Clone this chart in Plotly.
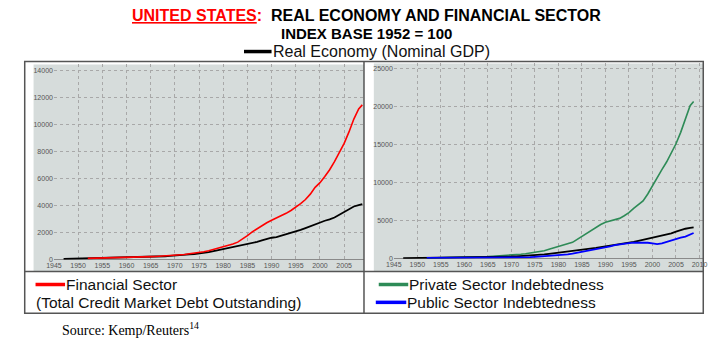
import plotly.graph_objects as go

W, H = 723, 345

# ---------------- data (index, 1952 = 100) ----------------
gdp_years = list(range(1947, 2009)) + [2008.75]
gdp_index = [68, 75, 74, 82, 95, 100, 106, 107, 116, 123, 129, 131, 142, 148, 153, 165,
             174, 187, 203, 222, 235, 257, 278, 292, 317, 349, 388, 421, 459, 510, 567,
             641, 716, 778, 874, 911, 990, 1100, 1182, 1248, 1323, 1427, 1537, 1625, 1678,
             1777, 1869, 1986, 2082, 2200, 2337, 2470, 2624, 2793, 2883, 2980, 3122, 3328,
             3552, 3764, 3938, 4040, 4110]

debt_years = list(range(1952, 2009)) + [2008.75]
financial_index = [100, 106, 112, 121, 128, 134, 142, 153, 160, 170, 182, 196, 211, 226, 241,
                   258, 280, 301, 320, 352, 392, 436, 478, 525, 590, 670, 765, 860, 950, 1050,
                   1160, 1300, 1510, 1780, 2060, 2300, 2520, 2730, 2920, 3080, 3240, 3430, 3640,
                   3880, 4150, 4450, 4850, 5350, 5700, 6150, 6650, 7250, 7900, 8600, 9450,
                   10400, 11150, 11450]
private_index = [100, 108, 116, 130, 140, 150, 160, 175, 190, 210, 230, 260, 280, 300, 330,
                 360, 390, 430, 470, 520, 580, 660, 750, 850, 950, 1050, 1250, 1420, 1600,
                 1780, 1950, 2150, 2550, 2950, 3400, 3800, 4150, 4500, 4800, 4950, 5100, 5300,
                 5650, 6050, 6600, 7100, 7600, 8500, 9600, 10700, 11700, 12700, 13800, 15100,
                 16600, 18400, 20100, 20650]
public_index = [100, 102, 104, 104, 103, 104, 108, 112, 112, 116, 121, 124, 128, 131, 135,
                143, 150, 150, 160, 175, 190, 198, 210, 250, 290, 320, 350, 380, 430, 480,
                560, 660, 770, 900, 1030, 1130, 1230, 1330, 1460, 1620, 1780, 1900, 1990,
                2060, 2120, 2140, 2130, 2100, 2020, 1920, 2020, 2220, 2420, 2600, 2760, 2900,
                3150, 3380]

x_ticks = [1945, 1950, 1955, 1960, 1965, 1970, 1975, 1980, 1985, 1990, 1995, 2000, 2005, 2010]
left_y_ticks = [0, 2000, 4000, 6000, 8000, 10000, 12000, 14000]
right_y_ticks = [0, 5000, 10000, 15000, 20000, 25000]

RED, GREEN, BLUE, BLACK = "#ff0000", "#2e8b57", "#0000ff", "#000000"
GRAY_BG = "#d6dcdb"


def px(x):
    return x / W


def py(y):
    return 1 - y / H


fig = go.Figure()
fig.add_trace(go.Scatter(x=gdp_years, y=gdp_index, mode="lines",
                         line=dict(color=BLACK, width=1.8), xaxis="x", yaxis="y"))
fig.add_trace(go.Scatter(x=debt_years, y=financial_index, mode="lines",
                         line=dict(color=RED, width=1.6), xaxis="x", yaxis="y"))
fig.add_trace(go.Scatter(x=debt_years, y=private_index, mode="lines",
                         line=dict(color=GREEN, width=1.6), xaxis="x2", yaxis="y2"))
fig.add_trace(go.Scatter(x=gdp_years, y=gdp_index, mode="lines",
                         line=dict(color=BLACK, width=1.8), xaxis="x2", yaxis="y2"))
fig.add_trace(go.Scatter(x=debt_years, y=public_index, mode="lines",
                         line=dict(color=BLUE, width=1.8), xaxis="x2", yaxis="y2"))

tickfont = dict(family="Arial, Liberation Sans, sans-serif", size=7, color="#555555")
axis_common = dict(showgrid=True, gridcolor="#a8a8a8", griddash="dot", gridwidth=1,
                   tickfont=tickfont, ticks="", showline=False, fixedrange=True,
                   tickformat="d")

fig.update_layout(
    width=W, height=H, margin=dict(l=0, r=0, t=0, b=0),
    paper_bgcolor="white", plot_bgcolor="rgba(0,0,0,0)", showlegend=False,
    xaxis=dict(domain=[px(46.7), px(362)], range=[1945, 2009.1], tickvals=x_ticks,
               zeroline=False, anchor="y", **axis_common),
    yaxis=dict(domain=[py(262), py(65)], range=[0, 14440], tickvals=left_y_ticks,
               zeroline=True, zerolinecolor="#8a8a8a", zerolinewidth=1, anchor="x",
               **axis_common),
    xaxis2=dict(domain=[px(392.3), px(707)], range=[1945, 2010.8], tickvals=x_ticks,
                zeroline=False, anchor="y2", **axis_common),
    yaxis2=dict(domain=[py(261), py(64)], range=[0, 25650], tickvals=right_y_ticks,
                zeroline=True, zerolinecolor="#8a8a8a", zerolinewidth=1, anchor="x2",
                **axis_common),
)

shapes = []
# gray panels
shapes.append(dict(type="rect", xref="paper", yref="paper", x0=px(26), x1=px(362),
                   y0=py(274), y1=py(65), fillcolor=GRAY_BG, line=dict(width=0), layer="below"))
shapes.append(dict(type="rect", xref="paper", yref="paper", x0=px(372), x1=px(707),
                   y0=py(274), y1=py(64), fillcolor=GRAY_BG, line=dict(width=0), layer="below"))
# frame
BORDER = dict(color="#555555", width=1.5)
shapes.append(dict(type="rect", xref="paper", yref="paper", x0=px(17), x1=px(707),
                   y0=py(316), y1=py(62), line=BORDER, layer="above"))
shapes.append(dict(type="line", xref="paper", yref="paper", x0=px(362), x1=px(362),
                   y0=py(316), y1=py(62), line=BORDER, layer="above"))
shapes.append(dict(type="line", xref="paper", yref="paper", x0=px(17), x1=px(707),
                   y0=py(274), y1=py(274), line=BORDER, layer="above"))


# legend samples
def leg_line(x0, x1, y, color):
    return dict(type="line", xref="paper", yref="paper", x0=px(x0), x1=px(x1),
                y0=py(y), y1=py(y), line=dict(color=color, width=3.5))


shapes.append(leg_line(240, 268, 52, BLACK))
shapes.append(leg_line(28, 58, 287, RED))
shapes.append(leg_line(377, 407, 287, GREEN))
shapes.append(leg_line(374, 405, 305, BLUE))
fig.update_layout(shapes=shapes)

SANS = "Arial, Liberation Sans, sans-serif"
ann = []
ann.append(dict(x=px(365), y=py(16), xref="paper", yref="paper", showarrow=False,
                xanchor="center", yanchor="middle",
                text="<span style='color:#ff0000'><u>UNITED STATES</u>:</span>  REAL ECONOMY AND FINANCIAL SECTOR",
                font=dict(family=SANS, size=16, color="black", weight="bold")))
ann.append(dict(x=px(365), y=py(34), xref="paper", yref="paper", showarrow=False,
                xanchor="center", yanchor="middle", text="INDEX BASE 1952 = 100",
                font=dict(family=SANS, size=15, color="black", weight="bold")))


def leg_text(x, y, txt, size=15.5):
    return dict(x=px(x), y=py(y), xref="paper", yref="paper", showarrow=False,
                xanchor="left", yanchor="middle", text=txt,
                font=dict(family=SANS, size=size, color="#111111"))


ann.append(leg_text(267, 52, "Real Economy (Nominal GDP)", 16))
ann.append(leg_text(57, 287, "Financial Sector"))
ann.append(leg_text(26, 305, "(Total Credit Market Debt Outstanding)"))
ann.append(leg_text(406, 287, "Private Sector Indebtedness"))
ann.append(leg_text(404, 305, "Public Sector Indebtedness"))
ann.append(dict(x=px(53), y=py(332), xref="paper", yref="paper", showarrow=False,
                xanchor="left", yanchor="middle",
                text="Source: Kemp/Reuters<sup>14</sup>",
                font=dict(family="Liberation Serif, Times New Roman, serif", size=14, color="black")))
fig.update_layout(annotations=ann)

fig.write_html("out.html")
